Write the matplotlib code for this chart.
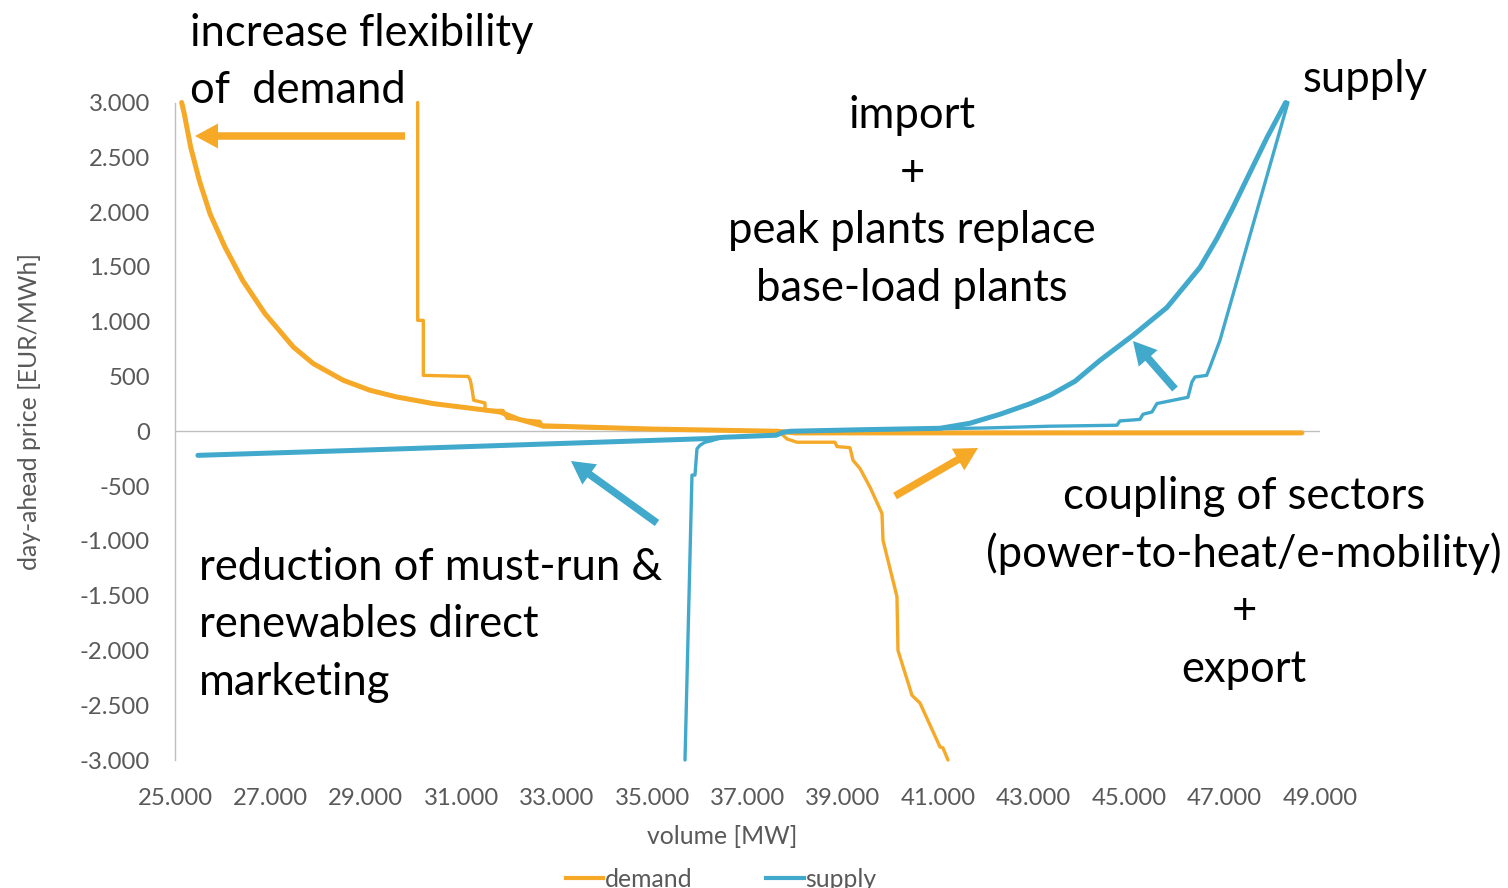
import matplotlib
matplotlib.use("Agg")
import matplotlib.pyplot as plt
from matplotlib.ticker import FuncFormatter, FixedLocator
from matplotlib.lines import Line2D

# ---------------- data ----------------
demand_flex_x = [25140, 25195, 25329, 25510, 25734, 26048, 26419, 26886, 27480, 27899,
                 28528, 29087, 29647, 30415, 31253, 31812, 32200, 32700, 35000, 37620,
                 38000, 48620]
demand_flex_y = [3000, 2896, 2592, 2288, 1984, 1680, 1376, 1073, 769, 617,
                 465, 374, 313, 252, 207, 176, 110, 50, 20, 0,
                 -15, -15]

demand_x = [30087, 30087, 30087, 30205, 30205, 31148, 31190, 31230, 31260, 31498, 31498,
            31875, 31960, 32650, 32713, 35000, 37620, 37681, 37827, 38037, 38834,
            38876, 39148, 39211, 39358, 39567, 39819, 39840, 40133, 40154, 40448,
            40615, 41034, 41097, 41202]
demand_y = [3000, 2000, 1012, 1012, 510, 500, 465, 374, 283, 258, 191,
            190, 118, 90, 40, 20, 0, -10, -70, -100, -100,
            -140, -150, -265, -340, -510, -750, -995, -1510, -2000, -2410,
            -2480, -2880, -2890, -3000]

supply_flex_x = [25480, 28878, 36150, 36500, 37600, 37750, 37900, 39500, 41034, 41663,
                 42292, 42921, 43340, 43864, 44388, 45080, 45793, 46484, 46840, 47176,
                 47532, 47889, 48280]
supply_flex_y = [-220, -173, -67, -55, -36, -9, 0, 15, 27, 73,
                 155, 251, 328, 456, 647, 875, 1130, 1495, 1759, 2042,
                 2361, 2680, 3000]

supply_x = [35690, 35836, 35899, 35941, 36004, 36109, 36214, 36486, 37618, 37744, 37890,
            40000, 42000, 43340, 44744, 44807, 45226, 45289, 45478, 45583, 46232,
            46316, 46379, 46624, 46694, 46903, 48328]
supply_y = [-3000, -400, -400, -160, -128, -100, -90, -55, -36, -9, 0,
            15, 30, 46, 55, 94, 108, 155, 176, 253, 310,
            450, 495, 510, 586, 830, 3000]

x_ticks = [25000, 27000, 29000, 31000, 33000, 35000, 37000, 39000, 41000, 43000, 45000, 47000, 49000]
y_ticks = [-3000, -2500, -2000, -1500, -1000, -500, 0, 500, 1000, 1500, 2000, 2500, 3000]

ORANGE = "#F6A827"
BLUE = "#41A9CC"
GRAY = "#595959"
AXGRAY = "#BFBFBF"
TFONT = "Lato"
AFONT = "Lato"
AWEIGHT = "normal"

W, H = 1508, 888
fig = plt.figure(figsize=(W / 100, H / 100), dpi=100)
ax = fig.add_axes([175 / W, 1 - 760 / H, (1320 - 175) / W, (760 - 102.5) / H])
ax.set_xlim(25000, 49000)
ax.set_ylim(-3000, 3000)

for s in ["top", "right", "bottom"]:
    ax.spines[s].set_visible(False)
ax.spines["left"].set_color(AXGRAY)
ax.spines["left"].set_linewidth(1.0)
ax.axhline(0, color=AXGRAY, lw=1.0, zorder=1)

fig.canvas.draw()
renderer = fig.canvas.get_renderer()


def fit_size(text, target_px, family, weight="normal", base=30):
    t = fig.text(0, 0, text, fontsize=base, family=family, weight=weight)
    w = t.get_window_extent(renderer).width
    t.remove()
    return base * target_px / w


tick_fs = fit_size("3.000", 61, TFONT)
label_fs = fit_size("volume [MW]", 150, TFONT)
ann_fs = fit_size("increase flexibility", 343, AFONT, AWEIGHT)

fmt = FuncFormatter(lambda v, p: f"{v:,.0f}".replace(",", "."))
ax.xaxis.set_major_locator(FixedLocator(x_ticks))
ax.yaxis.set_major_locator(FixedLocator(y_ticks))
ax.xaxis.set_major_formatter(fmt)
ax.yaxis.set_major_formatter(fmt)
ax.tick_params(axis="both", length=0, colors=GRAY, labelsize=tick_fs)
ax.tick_params(axis="x", pad=20)
ax.tick_params(axis="y", pad=18)
for lab in ax.get_xticklabels() + ax.get_yticklabels():
    lab.set_family(TFONT)

lw_thin, lw_thick = 2.4, 3.6
common = dict(solid_capstyle="round", solid_joinstyle="round", clip_on=False)
ax.plot(demand_flex_x, demand_flex_y, color=ORANGE, lw=lw_thick, zorder=3, **common)
ax.plot(demand_x, demand_y, color=ORANGE, lw=lw_thin, zorder=3, **common)
ax.plot(supply_flex_x, supply_flex_y, color=BLUE, lw=lw_thick, zorder=4, **common)
ax.plot(supply_x, supply_y, color=BLUE, lw=lw_thin, zorder=4, **common)

# axis titles
fig.text(722 / W, 1 - 836 / H, "volume [MW]", ha="center", va="center",
         fontsize=label_fs, family=TFONT, color=GRAY)
fig.text(30 / W, 1 - 412 / H, "day-ahead price [EUR/MWh]", ha="center", va="center",
         rotation=90, fontsize=label_fs, family=TFONT, color=GRAY)

# legend
handles = [Line2D([], [], color=ORANGE, lw=3.0), Line2D([], [], color=BLUE, lw=3.0)]
fig.legend(handles, ["demand", "supply"], loc="center", ncol=2, frameon=False,
           bbox_to_anchor=(721 / W, 1 - 879 / H), prop={"family": TFONT, "size": label_fs},
           labelcolor=GRAY, handlelength=1.5, handletextpad=0.05, columnspacing=3.0,
           borderpad=0)


# annotation texts (baseline placement)
def t(x, y, s, ha="left"):
    fig.text(x / W, 1 - y / H, s, ha=ha, va="baseline", fontsize=ann_fs,
             family=AFONT, weight=AWEIGHT, color="black")


t(190, 46, "increase flexibility")
t(190, 103, "of  demand")
for yy, s in [(128, "import"), (186, "+"), (243, "peak plants replace"), (301, "base-load plants")]:
    t(912, yy, s, ha="center")
t(1303, 92, "supply")
for yy, s in [(509, "coupling of sectors"), (567, "(power-to-heat/e-mobility)"), (624, "+"), (682, "export")]:
    t(1244, yy, s, ha="center")
for yy, s in [(580, "reduction of must-run &"), (637, "renewables direct"), (695, "marketing")]:
    t(199, yy, s)


# arrows (figure pixels)
def arrow(tail, tip, color):
    ax.annotate("", xy=(tip[0], H - tip[1]), xytext=(tail[0], H - tail[1]),
                xycoords="figure pixels", textcoords="figure pixels", annotation_clip=False,
                arrowprops=dict(arrowstyle="simple,head_length=23,head_width=25,tail_width=7.5",
                                mutation_scale=0.72, color=color, lw=0, shrinkA=0, shrinkB=0))


arrow((405, 136), (195, 136), ORANGE)
arrow((657, 523), (571, 461), BLUE)
arrow((895, 496), (978, 448), ORANGE)
arrow((1175, 389), (1133, 341), BLUE)

fig.savefig("out.png", dpi=100)
